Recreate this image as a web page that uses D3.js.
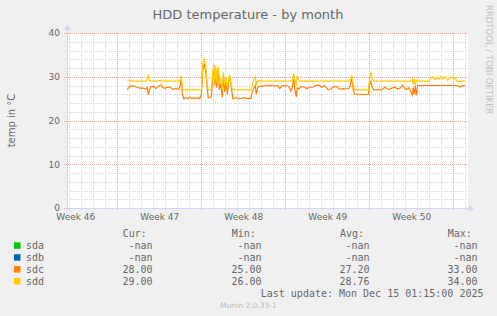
<!DOCTYPE html>
<html>
<head>
<meta charset="utf-8">
<script src="https://cdn.jsdelivr.net/npm/d3@7"></script>
<style>
  body { margin: 0; background: #f0f0f0; }
  svg { display: block; }
  text { font-family: "DejaVu Sans", sans-serif; fill: #666; }
  .mono { font-family: "DejaVu Sans Mono", monospace; }
</style>
</head>
<body>
<div id="chart"></div>
<script>
// hours after Mon Nov 17 2025 00:00 (UTC) for each 2h sample
const hours = [20, 23, 27, 33, 39, 45, 51, 57, 60, 62,
  64, 67, 73, 77, 81, 87, 91, 95, 101, 107,
  111, 117, 123, 126, 128, 130, 133, 137, 141, 145,
  149, 153, 157, 161, 165, 168, 171, 174, 177, 180,
  182, 185, 188, 191, 193, 195, 197, 199, 202, 204,
  207, 210, 212, 215, 217, 220, 223, 225, 228, 231,
  237, 245, 253, 261, 267, 270, 273, 276, 278, 281,
  285, 295, 305, 315, 321, 325, 329, 337, 343, 347,
  350, 353, 355, 358, 360, 363, 367, 373, 379, 385,
  391, 397, 403, 409, 415, 421, 427, 433, 439, 445,
  451, 457, 463, 466, 469, 472, 475, 485, 495, 502,
  505, 507, 510, 513, 521, 529, 535, 539, 543, 549,
  555, 561, 567, 571, 575, 579, 583, 587, 590, 592,
  594, 596, 598, 601, 609, 617, 623, 627, 631, 635,
  639, 643, 647, 651, 657, 661, 665, 669, 673, 676,
  679, 683, 686, 689, 696];

const sdc = [27.0, 27.6, 27.9, 27.9, 27.6, 27.4, 27.4, 27.2, 27.5, 25.9,
  26.8, 27.7, 27.8, 27.3, 27.8, 28.1, 27.6, 27.3, 27.7, 27.5,
  27.1, 27.3, 27.1, 28.0, 30.0, 26.0, 25.0, 25.2, 25.0, 25.3,
  25.0, 25.2, 25.0, 25.2, 25.0, 26.0, 31.5, 33.0, 31.0, 27.0,
  25.2, 25.2, 25.5, 30.0, 32.5, 28.0, 31.5, 27.5, 32.0, 27.0,
  28.5, 25.3, 30.0, 26.5, 29.5, 26.0, 29.0, 30.0, 27.5, 25.0,
  25.2, 25.0, 25.2, 25.0, 25.0, 26.5, 27.5, 28.0, 26.0, 27.6,
  27.8, 27.9, 28.0, 27.9, 27.9, 27.3, 27.9, 28.0, 27.8, 26.8,
  27.5, 29.5, 27.0, 25.4, 27.5, 27.2, 27.7, 27.7, 27.3, 27.6,
  27.6, 28.0, 28.1, 27.6, 28.0, 27.1, 27.2, 27.7, 27.8, 27.1,
  27.3, 27.2, 27.3, 28.0, 29.6, 27.0, 26.0, 26.0, 25.9, 26.0,
  28.5, 28.9, 27.5, 27.0, 27.0, 27.0, 27.6, 27.3, 27.1, 27.4,
  27.6, 27.2, 27.5, 28.1, 27.3, 27.1, 27.5, 26.6, 25.8, 27.5,
  26.0, 28.0, 25.8, 28.0, 28.0, 28.0, 28.0, 28.0, 28.0, 28.0,
  28.0, 28.0, 28.0, 28.0, 28.0, 28.0, 28.0, 28.0, 28.0, 28.0,
  28.0, 27.8, 27.6, 27.9, 28.0];

const sdd = [29.2, 29.2, 29.1, 29.0, 29.0, 29.0, 29.0, 29.0, 29.5, 30.5,
  29.2, 29.0, 29.0, 29.0, 29.0, 29.2, 29.0, 29.0, 29.0, 29.0,
  29.0, 29.0, 29.0, 29.3, 30.3, 27.3, 27.0, 27.0, 27.0, 27.0,
  27.0, 27.0, 27.0, 27.0, 27.0, 27.0, 33.0, 34.0, 32.5, 28.0,
  27.0, 27.0, 27.0, 31.0, 32.8, 29.0, 32.5, 28.5, 32.3, 28.5,
  29.5, 27.0, 31.0, 28.0, 30.0, 27.5, 29.5, 30.5, 28.0, 27.0,
  27.0, 27.0, 27.0, 27.0, 27.0, 28.0, 29.5, 30.0, 28.0, 29.2,
  29.0, 29.0, 29.0, 29.0, 29.0, 29.0, 29.0, 29.0, 29.0, 29.0,
  29.0, 30.8, 29.5, 28.0, 30.2, 29.2, 29.0, 29.0, 29.0, 29.0,
  29.0, 29.0, 29.0, 29.0, 29.0, 29.0, 29.0, 29.0, 29.0, 29.0,
  29.0, 29.0, 29.0, 29.3, 30.3, 28.0, 27.0, 27.0, 27.0, 27.0,
  30.0, 31.0, 29.5, 29.0, 29.0, 29.0, 29.0, 29.0, 29.0, 29.0,
  29.0, 29.0, 29.0, 29.0, 29.0, 29.0, 29.0, 29.0, 29.4, 28.2,
  29.5, 28.0, 29.2, 29.0, 29.0, 29.0, 29.0, 29.6, 30.0, 29.3,
  29.7, 29.4, 30.0, 29.5, 30.0, 29.2, 29.6, 30.0, 29.5, 29.8,
  29.0, 29.0, 29.0, 29.0, 29.0];

const yTicks = [0, 10, 20, 30, 40];
const legendHead = ["Cur:", "Min:", "Avg:", "Max:"];
const legendNames = ["sda", "sdb", "sdc", "sdd"];
const legendColors = ["#00cc00", "#0066b3", "#ff8000", "#ffcc00"];
const legendValues = [
  ["-nan", "-nan", "-nan", "-nan"],
  ["-nan", "-nan", "-nan", "-nan"],
  ["28.00", "25.00", "27.20", "33.00"],
  ["29.00", "26.00", "28.76", "34.00"]
];

const W = 497, H = 316;
const pLeft = 67, pRight = 467, pTop = 33, pBottom = 208;
const HOUR = 3600e3;
const t0 = Date.UTC(2025, 10, 17);

const svg = d3.select("#chart").append("svg")
  .attr("width", W).attr("height", H);

svg.append("rect").attr("width", W).attr("height", H).attr("fill", "#f0f0f0");

const x = d3.scaleUtc()
  .domain([new Date(t0 - 100.6 * HOUR), new Date(t0 + 699.4 * HOUR)])
  .range([pLeft, pRight]);
const y = d3.scaleLinear().domain([0, 40]).range([pBottom, pTop]);

// plot canvas
svg.append("rect")
  .attr("x", pLeft).attr("y", pTop)
  .attr("width", pRight - pLeft + 1).attr("height", pBottom - pTop)
  .attr("fill", "#fff");

const days = d3.utcDay.range(x.domain()[0], x.domain()[1]);
const weeks = d3.utcMonday.range(x.domain()[0], x.domain()[1]);
const minorY = d3.range(0, 41, 2).filter(v => v % 10 !== 0);

const minorCol = "#d6d6d6", majorCol = "#e9a3a3";

// minor grid
svg.append("g").selectAll("line").data(days.filter(d => d.getUTCDay() !== 1)).join("line")
  .attr("x1", d => Math.round(x(d)) + 0.5).attr("x2", d => Math.round(x(d)) + 0.5)
  .attr("y1", pTop).attr("y2", pBottom + 2)
  .attr("stroke", minorCol).attr("stroke-dasharray", "1,1");
svg.append("g").selectAll("line").data(minorY).join("line")
  .attr("x1", pLeft - 2).attr("x2", pRight + 1)
  .attr("y1", d => Math.round(y(d)) + 0.5).attr("y2", d => Math.round(y(d)) + 0.5)
  .attr("stroke", minorCol).attr("stroke-dasharray", "1,1");

// major grid
svg.append("g").selectAll("line").data(weeks).join("line")
  .attr("x1", d => Math.round(x(d)) + 0.5).attr("x2", d => Math.round(x(d)) + 0.5)
  .attr("y1", pTop).attr("y2", pBottom + 3)
  .attr("stroke", majorCol).attr("stroke-dasharray", "1,1");
svg.append("g").selectAll("line").data(yTicks).join("line")
  .attr("x1", pLeft - 3).attr("x2", pRight + 1)
  .attr("y1", d => Math.round(y(d)) + 0.5).attr("y2", d => Math.round(y(d)) + 0.5)
  .attr("stroke", majorCol).attr("stroke-dasharray", "1,1");

// data lines
const line = d3.line()
  .x((d, i) => x(new Date(t0 + hours[i] * HOUR)))
  .y(d => y(d));

[[sdc, legendColors[2]], [sdd, legendColors[3]]].forEach(([vals, col]) => {
  svg.append("path")
    .attr("d", line(vals))
    .attr("fill", "none")
    .attr("stroke", col)
    .attr("stroke-width", 1.2);
});

// axes lines and arrows
const axisCol = "#cfd6f8";
svg.append("line").attr("x1", pLeft + 0.5).attr("x2", pLeft + 0.5)
  .attr("y1", pBottom + 1).attr("y2", pTop - 4).attr("stroke", axisCol);
svg.append("line").attr("x1", pLeft).attr("x2", pRight + 4)
  .attr("y1", pBottom + 0.5).attr("y2", pBottom + 0.5).attr("stroke", axisCol);
svg.append("path").attr("d", `M${pLeft - 3},${pTop - 3}L${pLeft + 0.5},${pTop - 8}L${pLeft + 4},${pTop - 3}Z`).attr("fill", axisCol);
svg.append("path").attr("d", `M${pRight + 2},${pBottom - 3}L${pRight + 7},${pBottom + 0.5}L${pRight + 2},${pBottom + 4}Z`).attr("fill", axisCol);

// x labels at mid-week
const mids = d3.utcMonday.range(new Date(t0 - 14 * 24 * HOUR), x.domain()[1])
  .map(d => new Date(+d + 3.5 * 24 * HOUR))
  .filter(d => x(d) > pLeft && x(d) < pRight);
const xAxis = svg.append("g")
  .attr("transform", `translate(0,${pBottom})`)
  .call(d3.axisBottom(x).tickValues(mids).tickSize(0).tickPadding(6)
    .tickFormat(d => "Week " + d3.utcFormat("%V")(d)));
xAxis.select(".domain").remove();
xAxis.selectAll("text").attr("font-size", 9).attr("fill", "#666")
  .style("font-family", "DejaVu Sans");

const yAxis = svg.append("g")
  .attr("transform", `translate(${pLeft},0)`)
  .call(d3.axisLeft(y).tickValues(yTicks).tickSize(0).tickPadding(7));
yAxis.select(".domain").remove();
yAxis.selectAll("text").attr("font-size", 9).attr("fill", "#666")
  .style("font-family", "DejaVu Sans");

// title and labels
svg.append("text").attr("x", 248).attr("y", 18.5)
  .attr("text-anchor", "middle").attr("font-size", 13)
  .text("HDD temperature - by month");

svg.append("text")
  .attr("transform", `translate(15,${(pTop + pBottom) / 2}) rotate(-90)`)
  .attr("text-anchor", "middle").attr("font-size", 10)
  .text("temp in °C");

svg.append("text")
  .attr("transform", "translate(486,5) rotate(90)")
  .attr("font-size", 8.5).style("fill", "#c0c0c0")
  .text("RRDTOOL / TOBI OETIKER");

// legend
const headX = [122.7, 231.7, 340, 447.7];
const valX = [152.5, 261.5, 369.5, 477.5];
const lg = svg.append("g").attr("class", "mono").attr("font-size", 10);

legendHead.forEach((h, i) => {
  lg.append("text").attr("class", "mono").attr("x", headX[i]).attr("y", 237).text(h);
});

legendNames.forEach((n, r) => {
  const by = 249.3 + r * 11.9;
  lg.append("rect").attr("x", 14).attr("y", by - 7)
    .attr("width", 6.5).attr("height", 6.5).attr("fill", legendColors[r]);
  lg.append("text").attr("class", "mono").attr("x", 26).attr("y", by).text(n);
  legendValues[r].forEach((v, c) => {
    lg.append("text").attr("class", "mono").attr("x", valX[c]).attr("y", by)
      .attr("text-anchor", "end").text(v);
  });
});

lg.append("text").attr("class", "mono").attr("x", 483.5).attr("y", 297)
  .attr("text-anchor", "end").text("Last update: Mon Dec 15 01:15:00 2025");

svg.append("text").attr("x", 248.5).attr("y", 308)
  .attr("text-anchor", "middle").attr("font-size", 7.5).style("fill", "#bbb")
  .text("Munin 2.0.33-1");
</script>
</body>
</html>
